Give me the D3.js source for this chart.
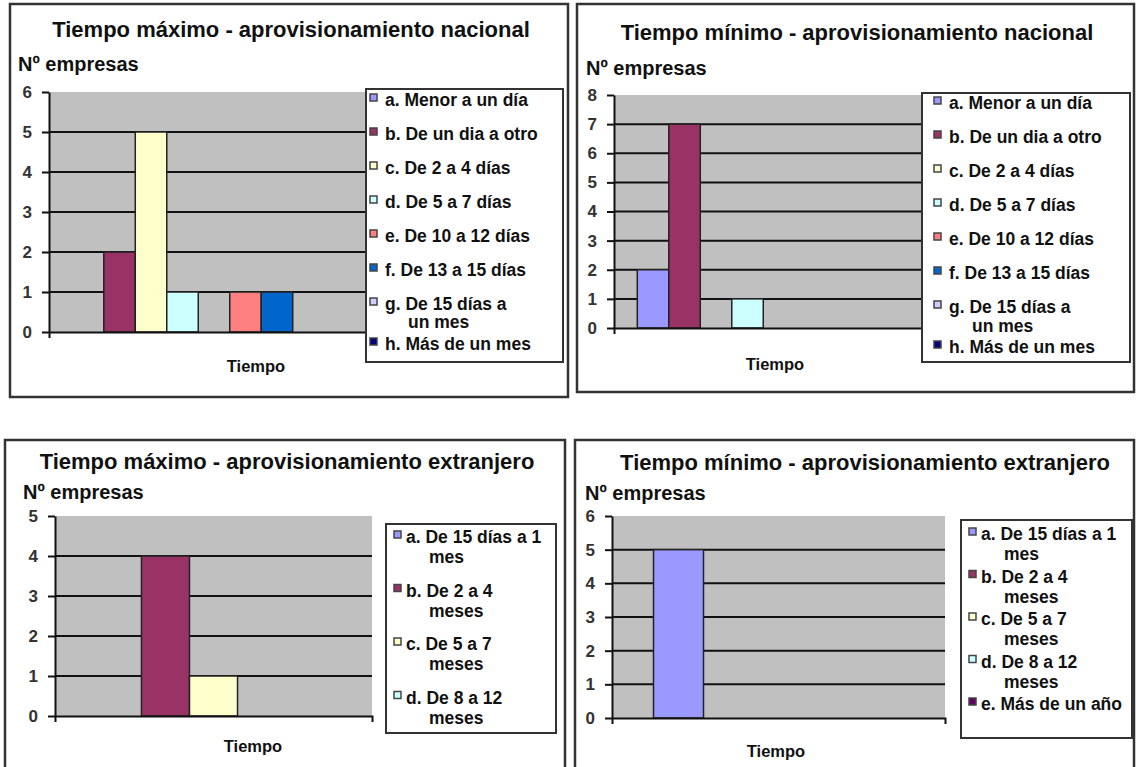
<!DOCTYPE html>
<html>
<head>
<meta charset="utf-8">
<script src="https://cdn.jsdelivr.net/npm/d3@7"></script>
<style>
  body { margin: 0; background: #fff; }
  svg { display: block; font-family: "Liberation Sans", Arial, sans-serif; }
</style>
</head>
<body>
<div id="chart"></div>
<script>
// Chart titles
const titles = [
    "Tiempo máximo - aprovisionamiento nacional",
    "Tiempo mínimo - aprovisionamiento nacional",
    "Tiempo máximo - aprovisionamiento extranjero",
    "Tiempo mínimo - aprovisionamiento extranjero"
];
const yTitle = "Nº empresas";
const xTitle = "Tiempo";

// Series names (empty name = series without legend entry)
const nacionalLabels = ["a. Menor a un día", "b. De un dia a otro", "c. De 2 a 4 días", "d. De 5 a 7 días", "",
    "e. De 10 a 12 días", "f. De 13 a 15 días", "g. De 15 días a\nun mes", "h. Más de un mes"];
const extMaxLabels = ["a. De 15 días a 1\nmes", "b. De 2 a 4\nmeses", "c. De 5 a 7\nmeses", "d. De 8 a 12\nmeses", ""];
const extMinLabels = ["a. De 15 días a 1\nmes", "b. De 2 a 4\nmeses", "c. De 5 a 7\nmeses", "d. De 8 a 12\nmeses", "e. Más de un año"];

// Series colours (old Excel palette)
const nacionalColors = ["#9999FF", "#993366", "#FFFFCC", "#CCFFFF", "#660066", "#FF8080", "#0066CC", "#CCCCFF", "#000080"];
const extColors = ["#9999FF", "#993366", "#FFFFCC", "#CCFFFF", "#660066"];

// Number of companies per series
const maxNacional = [0, 2, 5, 1, 0, 1, 1, 0, 0];
const minNacional = [2, 7, 0, 1, 0, 0, 0, 0, 0];
const maxExtranjero = [0, 4, 1, 0, 0];
const minExtranjero = [5, 0, 0, 0, 0];

// Y axis maximum of each chart
const yMaxima = [6, 8, 5, 6];

const width = 1136;
const height = 767;

const svg = d3.select("#chart")
    .append("svg")
    .attr("width", width)
    .attr("height", height);

// Layout of the four charts
const panels = [
    { title: titles[0], labels: nacionalLabels, colors: nacionalColors, values: maxNacional, yMax: yMaxima[0],
      frame: [10, 4, 568, 397], titleX: 291, titleY: 37, yTitleX: 18, yTitleY: 71,
      plot: { left: 49, right: 379, top: 92, bottom: 332 }, outer: 0.74, xTitleX: 256, xTitleY: 372,
      legend: { x: 366, y: 89, w: 197, h: 273, markX: 370, textX: 385, first: 106, step: 34, lineH: 18, extra: 6 } },
    { title: titles[1], labels: nacionalLabels, colors: nacionalColors, values: minNacional, yMax: yMaxima[1],
      frame: [577, 4, 1134, 392], titleX: 857, titleY: 40, yTitleX: 586, yTitleY: 75,
      plot: { left: 614, right: 944, top: 95, bottom: 328 }, outer: 0.74, xTitleX: 775, xTitleY: 370,
      legend: { x: 922, y: 93, w: 208, h: 269, markX: 934, textX: 949, first: 109, step: 34, lineH: 19, extra: 6 } },
    { title: titles[2], labels: extMaxLabels, colors: extColors, values: maxExtranjero, yMax: yMaxima[2],
      frame: [5, 440, 565, 772], titleX: 287, titleY: 469, yTitleX: 23, yTitleY: 499,
      plot: { left: 55, right: 372, top: 516, bottom: 716 }, outer: 0.8, xTitleX: 253, xTitleY: 752,
      legend: { x: 386, y: 524, w: 170, h: 209, markX: 394, textX: 406, first: 543, step: 33.5, lineH: 20, extra: 20 } },
    { title: titles[3], labels: extMinLabels, colors: extColors, values: minExtranjero, yMax: yMaxima[3],
      frame: [575, 440, 1134, 772], titleX: 865, titleY: 470, yTitleX: 585, yTitleY: 500,
      plot: { left: 612, right: 945, top: 516, bottom: 718 }, outer: 0.83, xTitleX: 776, xTitleY: 757,
      legend: { x: 961, y: 520, w: 171, h: 218, markX: 969, textX: 981, first: 540, step: 22.5, lineH: 20, extra: 20 } }
];

panels.forEach(drawPanel);

function drawPanel(p) {
    const g = svg.append("g");

    // Outer frame
    g.append("rect")
        .attr("x", p.frame[0])
        .attr("y", p.frame[1])
        .attr("width", p.frame[2] - p.frame[0])
        .attr("height", p.frame[3] - p.frame[1])
        .attr("fill", "none")
        .attr("stroke", "#333")
        .attr("stroke-width", 2.5);

    // Title
    g.append("text")
        .attr("x", p.titleX)
        .attr("y", p.titleY)
        .attr("text-anchor", "middle")
        .style("font-size", "22px")
        .style("font-weight", "bold")
        .style("fill", "#111")
        .text(p.title);

    // Y axis title
    g.append("text")
        .attr("x", p.yTitleX)
        .attr("y", p.yTitleY)
        .style("font-size", "20px")
        .style("font-weight", "bold")
        .style("fill", "#111")
        .text(yTitle);

    // Scales
    const yScale = d3.scaleLinear()
        .domain([0, p.yMax])
        .range([p.plot.bottom, p.plot.top]);

    const xScale = d3.scaleBand()
        .domain(d3.range(p.values.length))
        .range([p.plot.left, p.plot.right])
        .paddingInner(0)
        .paddingOuter(p.outer);

    // Grey plot area
    g.append("rect")
        .attr("x", p.plot.left)
        .attr("y", yScale(p.yMax))
        .attr("width", p.plot.right - p.plot.left)
        .attr("height", yScale(0) - yScale(p.yMax))
        .attr("fill", "#C0C0C0");

    // Horizontal grid lines
    g.selectAll(".grid")
        .data(d3.range(1, p.yMax))
        .join("line")
        .attr("class", "grid")
        .attr("x1", p.plot.left)
        .attr("x2", p.plot.right)
        .attr("y1", d => yScale(d))
        .attr("y2", d => yScale(d))
        .attr("stroke", "#111")
        .attr("stroke-width", 2);

    // Bars
    g.selectAll(".bar")
        .data(p.values.map((v, i) => ({ v, i })).filter(d => d.v > 0))
        .join("rect")
        .attr("class", "bar")
        .attr("x", d => xScale(d.i))
        .attr("y", d => yScale(d.v))
        .attr("width", xScale.bandwidth())
        .attr("height", d => yScale(0) - yScale(d.v))
        .attr("fill", d => p.colors[d.i])
        .attr("stroke", "#222")
        .attr("stroke-width", 1.5);

    // Y axis
    const yAxis = d3.axisLeft(yScale).ticks(p.yMax).tickFormat(d3.format("d")).tickSize(7).tickSizeOuter(0).tickPadding(10);
    const ya = g.append("g")
        .attr("transform", `translate(${p.plot.left},0)`)
        .call(yAxis);
    ya.attr("font-size", 17).attr("font-family", "'Liberation Sans', Arial, sans-serif");
    ya.select(".domain").attr("stroke", "#111").attr("stroke-width", 2);
    ya.selectAll("line").attr("stroke", "#111").attr("stroke-width", 2);
    ya.selectAll("text")
        .attr("font-weight", "bold")
        .attr("fill", "#333");

    // X axis (no category labels, only the base line)
    const xAxis = d3.axisBottom(xScale).tickValues([]).tickSizeOuter(6);
    const xa = g.append("g")
        .attr("transform", `translate(0,${yScale(0)})`)
        .call(xAxis);
    xa.select(".domain").attr("stroke", "#111").attr("stroke-width", 2);

    // X axis title
    g.append("text")
        .attr("x", p.xTitleX)
        .attr("y", p.xTitleY)
        .attr("text-anchor", "middle")
        .style("font-size", "16.5px")
        .style("font-weight", "bold")
        .style("fill", "#111")
        .text(xTitle);

    // Legend
    const L = p.legend;
    g.append("rect")
        .attr("x", L.x)
        .attr("y", L.y)
        .attr("width", L.w)
        .attr("height", L.h)
        .attr("fill", "#fff")
        .attr("stroke", "#333")
        .attr("stroke-width", 2);

    let yPos = L.first;
    p.labels.forEach((label, i) => {
        if (!label) return;
        const lines = label.split("\n");
        g.append("rect")
            .attr("x", L.markX)
            .attr("y", yPos - 12)
            .attr("width", 7)
            .attr("height", 7)
            .attr("fill", p.colors[i])
            .attr("stroke", "#444")
            .attr("stroke-width", 1.5);
        const t = g.append("text")
            .attr("x", L.textX)
            .attr("y", yPos)
            .style("font-size", "17.5px")
            .style("font-weight", "bold")
            .style("fill", "#111");
        lines.forEach((ln, k) => {
            t.append("tspan")
                .attr("x", k === 0 ? L.textX : L.textX + 23)
                .attr("y", yPos + k * L.lineH)
                .text(ln);
        });
        yPos += L.step + (lines.length - 1) * L.extra;
    });
}
</script>
</body>
</html>
